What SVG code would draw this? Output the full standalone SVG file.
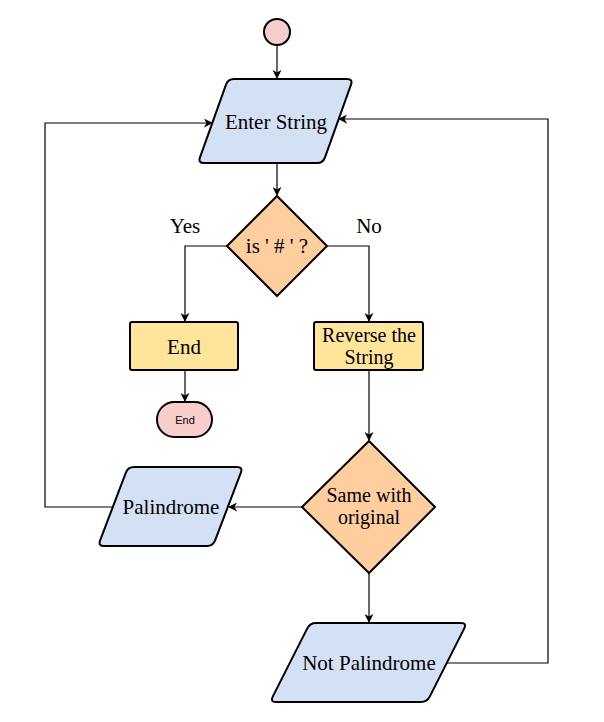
<svg xmlns="http://www.w3.org/2000/svg" width="604" height="722" viewBox="0 0 604 722">
<defs>
<style>
.sh{stroke:#000;stroke-width:2;}
.blue{fill:#d4e1f5;}
.org{fill:#ffce9f;}
.yel{fill:#ffe599;}
.pink{fill:#f8cecc;}
.t{font-family:"Liberation Serif","Times New Roman",serif;font-size:21px;fill:#000;text-anchor:middle;}
.t2{font-family:"Liberation Serif","Times New Roman",serif;font-size:20px;fill:#000;text-anchor:middle;}
.s{font-family:"Liberation Sans",Arial,sans-serif;font-size:11px;fill:#000;text-anchor:middle;}
.c{fill:none;stroke:#000;stroke-width:1.2;}
</style>
<marker id="ar" viewBox="0 0 10 10" refX="9" refY="5" markerWidth="9" markerHeight="9" markerUnits="userSpaceOnUse" orient="auto">
<path d="M0,0 L10,5 L0,10 L3,5 Z" fill="#000"/>
</marker>
</defs>
<rect width="604" height="722" fill="#fff"/>
<g id="connectors">
<path class="c" d="M277,45 V78" marker-end="url(#ar)"/>
<path class="c" d="M277,163 V195" marker-end="url(#ar)"/>
<path class="c" d="M227,246 H185 V321" marker-end="url(#ar)"/>
<path class="c" d="M327,246 H369 V321" marker-end="url(#ar)"/>
<path class="c" d="M185,370 V401" marker-end="url(#ar)"/>
<path class="c" d="M369,370 V440" marker-end="url(#ar)"/>
<path class="c" d="M302,507 H229" marker-end="url(#ar)"/>
<path class="c" d="M369,573 V622" marker-end="url(#ar)"/>
<path class="c" d="M113,507 H45 V123 H212" marker-end="url(#ar)"/>
<path class="c" d="M447,663 H548 V119 H339" marker-end="url(#ar)"/>
</g>
<g id="start">
<circle class="sh pink" cx="277" cy="32" r="13"/>
</g>
<g id="enter-string">
<path class="sh blue" d="M234,79 L347,79 Q353,79 351,84.65 L325,157.35 Q323,163 317,163 L204,163 Q198,163 200,157.35 L226,84.65 Q228,79 234,79 Z"/>
<text class="t" x="276" y="129">Enter String</text>
</g>
<g id="is-hash">
<path class="sh org" d="M277,196 L327,246 L277,296 L227,246 Z"/>
<text class="t" x="277" y="253">is ' # ' ?</text>
</g>
<g id="label-yes"><text class="t" x="185" y="233">Yes</text></g>
<g id="label-no"><text class="t" x="369" y="233">No</text></g>
<g id="end-box">
<rect class="sh yel" x="130" y="322" width="108" height="48" rx="2"/>
<text class="t" x="184" y="354">End</text>
</g>
<g id="reverse">
<rect class="sh yel" x="314" y="322" width="109" height="48" rx="2"/>
<text class="t2" x="369" y="342">Reverse the</text>
<text class="t2" x="369" y="364">String</text>
</g>
<g id="end-terminal">
<rect class="sh pink" x="157" y="402" width="55" height="35" rx="17.5"/>
<text class="s" x="185" y="424">End</text>
</g>
<g id="same">
<path class="sh org" d="M369,441 L435,507 L369,573 L302,507 Z"/>
<text class="t2" x="369" y="502">Same with</text>
<text class="t2" x="369" y="524">original</text>
</g>
<g id="palindrome">
<path class="sh blue" d="M134,467 L237,467 Q243,467 240.87,472.61 L215.13,540.39 Q213,546 207,546 L104,546 Q98,546 100.13,540.39 L125.87,472.61 Q128,467 134,467 Z"/>
<text class="t" x="171" y="514">Palindrome</text>
</g>
<g id="not-palindrome">
<path class="sh blue" d="M316,623 L461,623 Q467,623 464.29,628.36 L429.71,696.64 Q427,702 421,702 L276,702 Q270,702 272.71,696.64 L307.29,628.36 Q310,623 316,623 Z"/>
<text class="t" x="369" y="670">Not Palindrome</text>
</g>
</svg>
